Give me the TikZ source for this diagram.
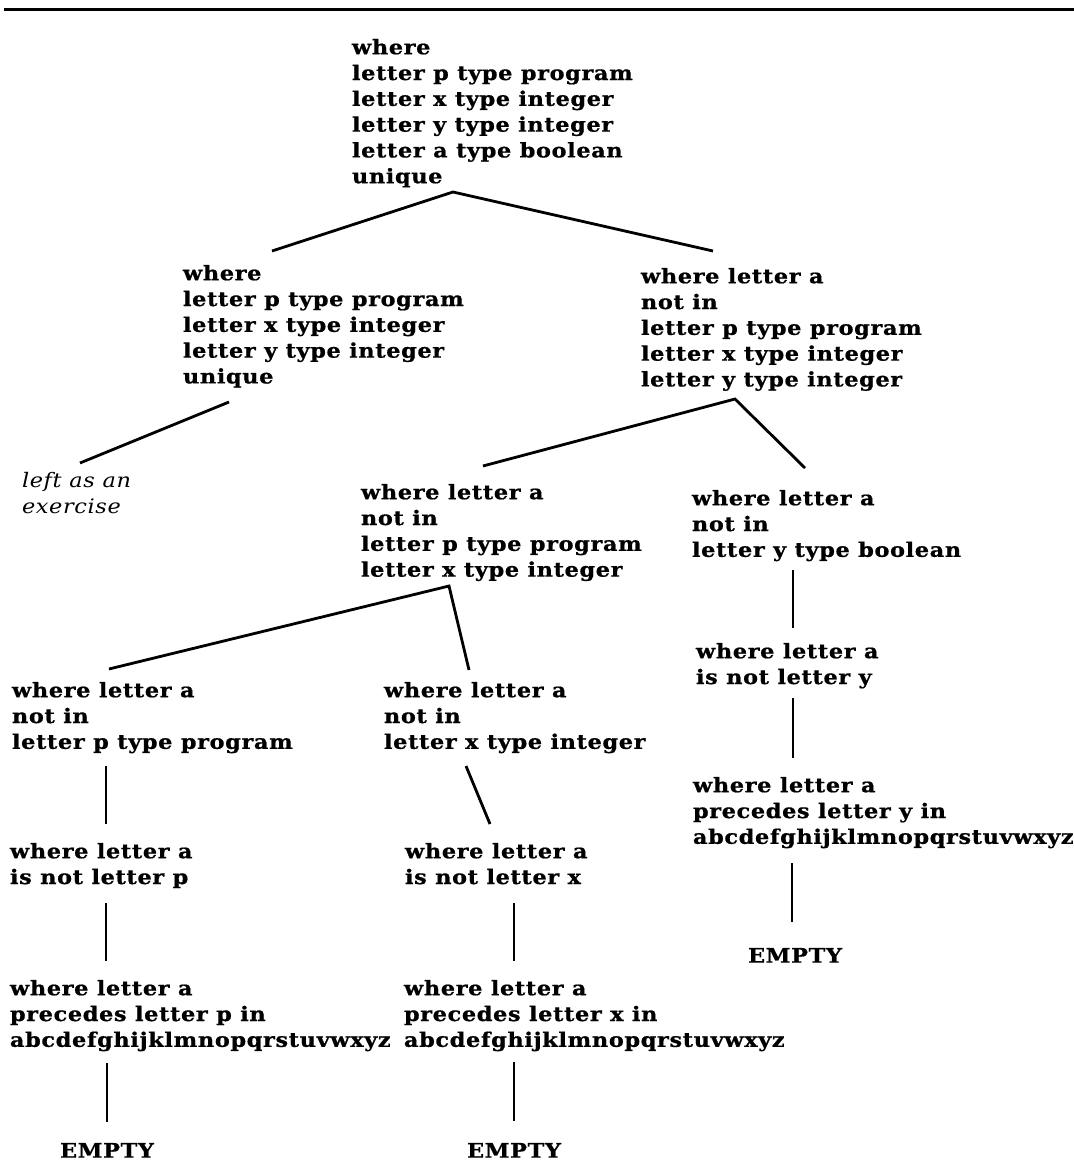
\documentclass[tikz,border=0pt]{standalone}
\usepackage{fontspec}
\setmainfont{DejaVu Serif}[LetterSpace=3.2, FakeStretch=1.12, BoldFeatures={FakeBold=0.8}]
\tikzset{
  tnode/.style={anchor=north west, inner sep=0pt, outer sep=0pt, align=left,
    font=\fontsize{20}{25.8}\selectfont\bfseries},
  enode/.style={anchor=north, inner sep=0pt, outer sep=0pt,
    font=\fontsize{20}{25.8}\selectfont\bfseries},
  inode/.style={anchor=north west, inner sep=0pt, outer sep=0pt, align=left,
    font=\fontsize{20}{25.8}\selectfont\itshape},
  conn/.style={line width=2.8pt, line cap=butt},
  rule/.style={line width=3pt}
}
\begin{document}
\begin{tikzpicture}[x=1pt,y=-1pt]
\useasboundingbox (0,0) rectangle (1074,1163);
\coordinate (ruleL) at (4,9);
\coordinate (ruleR) at (1074,9);
\draw[rule] (ruleL) -- (ruleR);

\node[tnode] (root) at (352,39) {where\\letter p type program\\letter x type integer\\letter y type integer\\letter a type boolean\\unique};
\node[tnode] (L1) at (183,265) {where\\letter p type program\\letter x type integer\\letter y type integer\\unique};
\node[tnode] (R1) at (641,268) {where letter a\\not in\\letter p type program\\letter x type integer\\letter y type integer};
\node[inode] (ex) at (22,472) {left as an\\exercise};
\node[tnode] (R1a) at (361,484) {where letter a\\not in\\letter p type program\\letter x type integer};
\node[tnode] (R1b) at (692,490) {where letter a\\not in\\letter y type boolean};
\node[tnode] (LL) at (12,682) {where letter a\\not in\\letter p type program};
\node[tnode] (LM) at (384,682) {where letter a\\not in\\letter x type integer};
\node[tnode] (LL2) at (10,843) {where letter a\\is not letter p};
\node[tnode] (LM2) at (405,843) {where letter a\\is not letter x};
\node[tnode] (LL3) at (10,980) {where letter a\\precedes letter p in\\abcdefghijklmnopqrstuvwxyz};
\node[tnode] (LM3) at (404,980) {where letter a\\precedes letter x in\\abcdefghijklmnopqrstuvwxyz};
\node[tnode] (R2) at (696,643) {where letter a\\is not letter y};
\node[tnode] (R3) at (693,777) {where letter a\\precedes letter y in\\abcdefghijklmnopqrstuvwxyz};
\node[enode] (E1) at (107,1143) {EMPTY};
\node[enode] (E2) at (514,1143) {EMPTY};
\node[enode] (E3) at (795,948) {EMPTY};

% connector end points
\coordinate (rootApex) at (453,192);
\coordinate (L1top) at (272,251);
\coordinate (R1top) at (713,251);
\coordinate (L1bot) at (229,402);
\coordinate (extop) at (80,463);
\coordinate (R1apex) at (735,399);
\coordinate (R1atop) at (483,466);
\coordinate (R1btop) at (805,468);
\coordinate (R1aapex) at (449,586);
\coordinate (LLtop) at (109,669);
\coordinate (LMtop) at (469,670);
\coordinate (LLbot) at (106,766);
\coordinate (LL2top) at (106,824);
\coordinate (LL2bot) at (106,903);
\coordinate (LL3top) at (106,961);
\coordinate (LL3bot) at (107,1063);
\coordinate (E1top) at (107,1122);
\coordinate (LMbot) at (466,766);
\coordinate (LM2top) at (490,824);
\coordinate (LM2bot) at (514,903);
\coordinate (LM3top) at (514,961);
\coordinate (LM3bot) at (514,1062);
\coordinate (E2top) at (514,1121);
\coordinate (R1bbot) at (793,570);
\coordinate (R2top) at (793,628);
\coordinate (R2bot) at (793,698);
\coordinate (R3top) at (793,758);
\coordinate (R3bot) at (792,863);
\coordinate (E3top) at (792,922);

\draw[conn] (L1top) -- (rootApex) -- (R1top);
\draw[conn] (L1bot) -- (extop);
\draw[conn] (R1atop) -- (R1apex) -- (R1btop);
\draw[conn] (LLtop) -- (R1aapex) -- (LMtop);
\draw[conn] (LLbot) -- (LL2top);
\draw[conn] (LL2bot) -- (LL3top);
\draw[conn] (LL3bot) -- (E1top);
\draw[conn] (LMbot) -- (LM2top);
\draw[conn] (LM2bot) -- (LM3top);
\draw[conn] (LM3bot) -- (E2top);
\draw[conn] (R1bbot) -- (R2top);
\draw[conn] (R2bot) -- (R3top);
\draw[conn] (R3bot) -- (E3top);
\end{tikzpicture}
\end{document}
